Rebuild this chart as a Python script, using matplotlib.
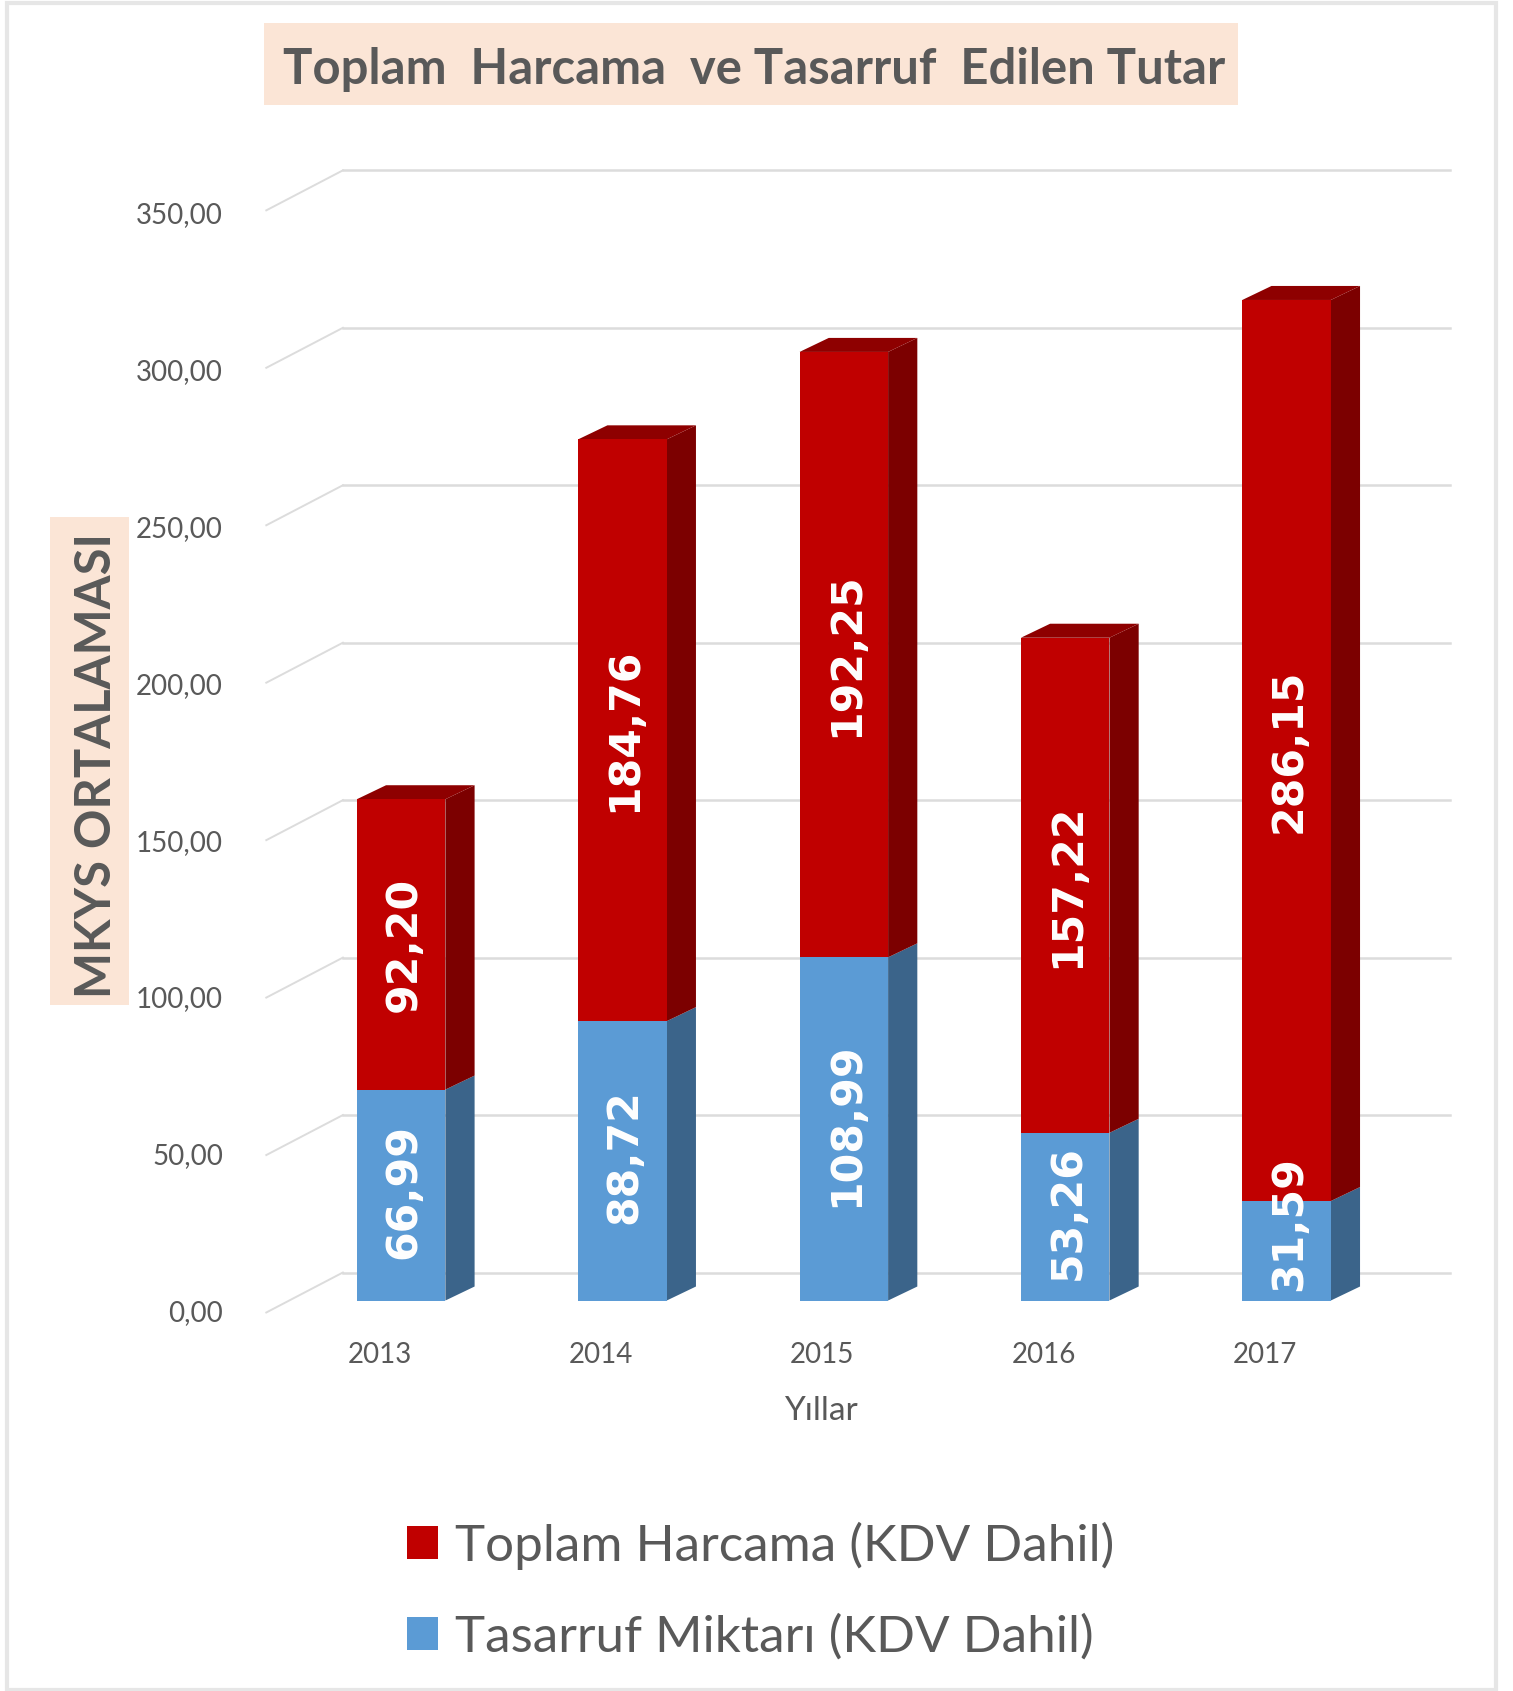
import matplotlib
matplotlib.use("Agg")
import matplotlib.pyplot as plt
from matplotlib.patches import Polygon, Rectangle

# =========================
# Chart data
# =========================
YEARS = ["2013", "2014", "2015", "2016", "2017"]
SAVINGS = [66.99, 88.72, 108.99, 53.26, 31.59]
SPENDING = [92.20, 184.76, 192.25, 157.22, 286.15]
Y_TICKS = [0, 50, 100, 150, 200, 250, 300, 350]

TITLE = "Toplam  Harcama  ve Tasarruf  Edilen Tutar"
Y_TITLE = "MKYS ORTALAMASI"
X_TITLE = "Yıllar"
SPENDING_LABEL = "Toplam Harcama (KDV Dahil)"
SAVINGS_LABEL = "Tasarruf Miktarı (KDV Dahil)"

# =========================
# Colours and fonts
# =========================
RED, RED_SIDE, RED_TOP = "#C00000", "#7C0000", "#8E0000"
BLUE, BLUE_SIDE = "#5B9BD5", "#3B648A"
TEXT = "#595959"
BOX = "#FBE5D6"
GRID = "#DCDCDC"
FONT = "Lato"

# Axes limits chosen so the axes fills the figure and bars land where they
# sit in the reference (bar spacing 1 unit, y in data units)
XLIM = (-1.812, 5.023)
YLIM = (-124.0, 413.0)
BAR_W = 0.40
DEPTH_X, DEPTH_Y = 0.132, 4.45


def fmt(value):
    return f"{value:.2f}".replace(".", ",")


def draw_walls(ax):
    """Back wall gridlines plus the short slanted lines on the side wall."""
    for tick in Y_TICKS:
        ax.plot([-0.263, 4.74], [tick + 8.9, tick + 8.9], color=GRID, lw=1.8, zorder=1)
        ax.plot([-0.609, -0.263], [tick - 3.8, tick + 8.9], color=GRID, lw=1.4, zorder=1)
        ax.text(-0.805, tick * 0.996 - 4.0, fmt(tick), ha="right", va="center",
                fontsize=20, color=TEXT, family=FONT)


def draw_depth(ax, x, low, high, side, top=None):
    """Side face (and optional top face) that give a bar its 3D look."""
    right = x + BAR_W / 2
    ax.add_patch(Polygon(
        [(right, low), (right + DEPTH_X, low + DEPTH_Y),
         (right + DEPTH_X, high + DEPTH_Y), (right, high)],
        closed=True, facecolor=side, edgecolor="none", zorder=3))
    if top:
        left = x - BAR_W / 2
        ax.add_patch(Polygon(
            [(left, high), (right, high),
             (right + DEPTH_X, high + DEPTH_Y), (left + DEPTH_X, high + DEPTH_Y)],
            closed=True, facecolor=top, edgecolor="none", zorder=3))


def draw_bars(ax):
    xs = list(range(len(YEARS)))
    blue = ax.bar(xs, SAVINGS, width=BAR_W, color=BLUE, zorder=4, label=SAVINGS_LABEL)
    red = ax.bar(xs, SPENDING, width=BAR_W, bottom=SAVINGS, color=RED, zorder=4,
                 label=SPENDING_LABEL)

    for x, low, extra in zip(xs, SAVINGS, SPENDING):
        draw_depth(ax, x, 0, low, BLUE_SIDE)
        draw_depth(ax, x, low, low + extra, RED_SIDE, RED_TOP)

        # Excel keeps the label inside the chart floor, so a short bar pushes it up
        ax.text(x + 0.01, max(low / 2 + 1.2, 24.5), fmt(low), rotation=90, ha="center",
                va="center", color="white", fontsize=30.7, fontweight="bold",
                family="DejaVu Sans", zorder=6)
        ax.text(x + 0.01, low + extra / 2, fmt(extra), rotation=90, ha="center", va="center",
                color="white", fontsize=30.7, fontweight="bold", family="DejaVu Sans", zorder=6)

        ax.text(x - 0.097, -17.4, YEARS[x], ha="center", va="center",
                fontsize=20, color=TEXT, family=FONT)
    return blue, red


def make_plot(output_file="out.png"):
    fig = plt.figure(figsize=(15.13, 16.91), dpi=100)
    ax = fig.add_axes([0, 0, 1, 1])
    ax.set_xlim(*XLIM)
    ax.set_ylim(*YLIM)
    ax.axis("off")

    # Outer chart frame
    fig.add_artist(Rectangle((0.0045, 0.0005), 0.984, 0.998, transform=fig.transFigure,
                             facecolor="white", edgecolor="#E6E6E6", lw=3, zorder=-1))

    draw_walls(ax)
    blue, red = draw_bars(ax)

    # Title and axis titles sit on peach boxes
    ax.add_patch(Rectangle((-0.619, 379.7), 4.40, 26, facecolor=BOX, edgecolor="none"))
    ax.text(-0.535, 390.8, TITLE, ha="left", va="center",
            fontsize=35.3, fontweight="bold", color=TEXT, family=FONT)

    ax.add_patch(Rectangle((-1.584, 93.9), 0.356, 155, facecolor=BOX, edgecolor="none"))
    ax.text(-1.375, 170.0, Y_TITLE, rotation=90, ha="center", va="center",
            fontsize=35.2, fontweight="bold", color=TEXT, family=FONT)

    ax.text(1.895, -35.2, X_TITLE, ha="center", va="center",
            fontsize=24, color=TEXT, family=FONT)

    ax.legend(
        [red, blue], [SPENDING_LABEL, SAVINGS_LABEL],
        loc="upper left", bbox_to_anchor=(0.2688, 0.1003), frameon=False,
        prop={"family": FONT, "size": 36.8}, labelcolor=TEXT,
        handlelength=0.61, handleheight=0.61, handletextpad=0.336, labelspacing=0.87,
        borderpad=0, borderaxespad=0,
    )

    fig.savefig(output_file, dpi=100)
    plt.close(fig)


if __name__ == "__main__":
    make_plot()
